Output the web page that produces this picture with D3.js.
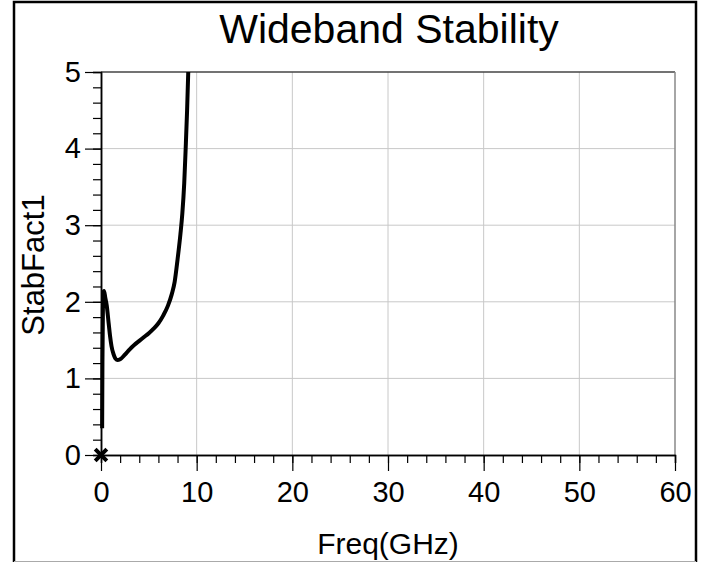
<!DOCTYPE html>
<html>
<head>
<meta charset="utf-8">
<script src="https://cdn.jsdelivr.net/npm/d3@7"></script>
<style>
  body { margin: 0; background: #fff; }
  text { font-family: "Liberation Sans", Arial, sans-serif; fill: #000; }
</style>
</head>
<body>
<svg id="chart"></svg>
<script>
// data
let freq = [0.12, 0.15, 0.2, 0.25, 0.32, 0.45, 0.6, 0.8, 0.95, 1.1, 1.3, 1.5, 1.7, 2.0, 2.5, 3.0, 3.5, 4.0, 4.5, 5.0, 5.5, 6.0, 6.5, 7.0, 7.4, 7.7, 8.0, 8.3, 8.5, 8.7, 8.85, 9.0, 9.12];
let stab = [0.35, 1.2, 1.9, 2.12, 2.14, 2.05, 1.95, 1.72, 1.55, 1.42, 1.32, 1.26, 1.24, 1.25, 1.31, 1.38, 1.44, 1.49, 1.54, 1.59, 1.65, 1.72, 1.82, 1.95, 2.1, 2.26, 2.55, 2.88, 3.15, 3.55, 4.0, 4.5, 5.0];
let xTicks = [0, 10, 20, 30, 40, 50, 60];
let yTicks = [0, 1, 2, 3, 4, 5];
let marker = [{f: 0, v: 0}];

let width = 703;
let height = 563;
let plotLeft = 101, plotRight = 675, plotTop = 72, plotBottom = 455;

let data = freq.map((f, i) => ({f: f, v: stab[i]}));

let xScale = d3.scaleLinear().domain([0, 60]).range([plotLeft, plotRight]);
let yScale = d3.scaleLinear().domain([0, 5]).range([plotBottom, plotTop]);

let svg = d3.select("#chart")
            .attr("width", width)
            .attr("height", height);

// outer frame: black top/left/right, faint bottom
svg.append("path")
    .attr("d", "M14,562 L14,2 L696,2 L696,562")
    .attr("fill", "none")
    .attr("stroke", "#000")
    .attr("stroke-width", 2.5);
svg.append("line")
    .attr("x1", 14).attr("x2", 696)
    .attr("y1", 561.5).attr("y2", 561.5)
    .attr("stroke", "#aaa");

// grid
svg.append("g")
    .selectAll("line")
    .data(xTicks.slice(1, -1))
    .enter()
    .append("line")
    .attr("x1", d => xScale(d)).attr("x2", d => xScale(d))
    .attr("y1", plotTop).attr("y2", plotBottom)
    .attr("stroke", "#c8c8c8");

svg.append("g")
    .selectAll("line")
    .data(yTicks.slice(1, -1))
    .enter()
    .append("line")
    .attr("x1", plotLeft).attr("x2", plotRight)
    .attr("y1", d => yScale(d)).attr("y2", d => yScale(d))
    .attr("stroke", "#c8c8c8");

// plot box top and right
svg.append("line")
    .attr("x1", plotLeft).attr("x2", plotRight)
    .attr("y1", plotTop).attr("y2", plotTop)
    .attr("stroke", "#444").attr("stroke-width", 1.5);
svg.append("line")
    .attr("x1", plotRight).attr("x2", plotRight)
    .attr("y1", plotTop).attr("y2", plotBottom)
    .attr("stroke", "#888").attr("stroke-width", 1.5);

// axes with minor ticks
let xMinor = d3.axisBottom(xScale).ticks(30).tickSize(8).tickFormat("");
let xMajor = d3.axisBottom(xScale).tickValues(xTicks).tickSize(16).tickPadding(10).tickSizeOuter(0).tickFormat(d3.format("d"));
let yMinor = d3.axisLeft(yScale).ticks(25).tickSize(8).tickFormat("");
let yMajor = d3.axisLeft(yScale).tickValues(yTicks).tickSize(16).tickPadding(4).tickSizeOuter(0).tickFormat(d3.format("d"));

svg.append("g").attr("transform", "translate(0," + plotBottom + ")").call(xMinor);
let gx = svg.append("g").attr("transform", "translate(0," + plotBottom + ")").call(xMajor);
svg.append("g").attr("transform", "translate(" + plotLeft + ",0)").call(yMinor);
let gy = svg.append("g").attr("transform", "translate(" + plotLeft + ",0)").call(yMajor);

svg.selectAll(".domain").attr("stroke", "#000").attr("stroke-width", 1.5);
svg.selectAll(".tick line").attr("stroke", "#000").attr("stroke-width", 1.2);
gx.selectAll("text").style("font-size", "29px").style("font-family", "Liberation Sans, Arial, sans-serif");
gy.selectAll("text").style("font-size", "29px").style("font-family", "Liberation Sans, Arial, sans-serif");

// curve
let line = d3.line()
    .x(d => xScale(d.f))
    .y(d => yScale(d.v))
    .curve(d3.curveMonotoneX);

svg.append("path")
    .datum(data)
    .attr("d", line)
    .attr("fill", "none")
    .attr("stroke", "#000")
    .attr("stroke-width", 4)
    .attr("stroke-linejoin", "round");

// marker at origin
svg.selectAll(".mk")
    .data(marker)
    .enter()
    .append("path")
    .attr("class", "mk")
    .attr("d", d3.symbol(d3.symbolX, 90))
    .attr("transform", d => "translate(" + xScale(d.f) + "," + yScale(d.v) + ")")
    .attr("stroke", "#000")
    .attr("stroke-width", 4);

// titles
svg.append("text")
    .attr("x", 389).attr("y", 43)
    .style("text-anchor", "middle")
    .style("font-size", "41px")
    .text("Wideband Stability");

svg.append("text")
    .attr("x", 388).attr("y", 554)
    .style("text-anchor", "middle")
    .style("font-size", "30px")
    .text("Freq(GHz)");

svg.append("text")
    .attr("transform", "rotate(-90)")
    .attr("x", -265).attr("y", 44)
    .style("text-anchor", "middle")
    .style("font-size", "31px")
    .text("StabFact1");
</script>
</body>
</html>
